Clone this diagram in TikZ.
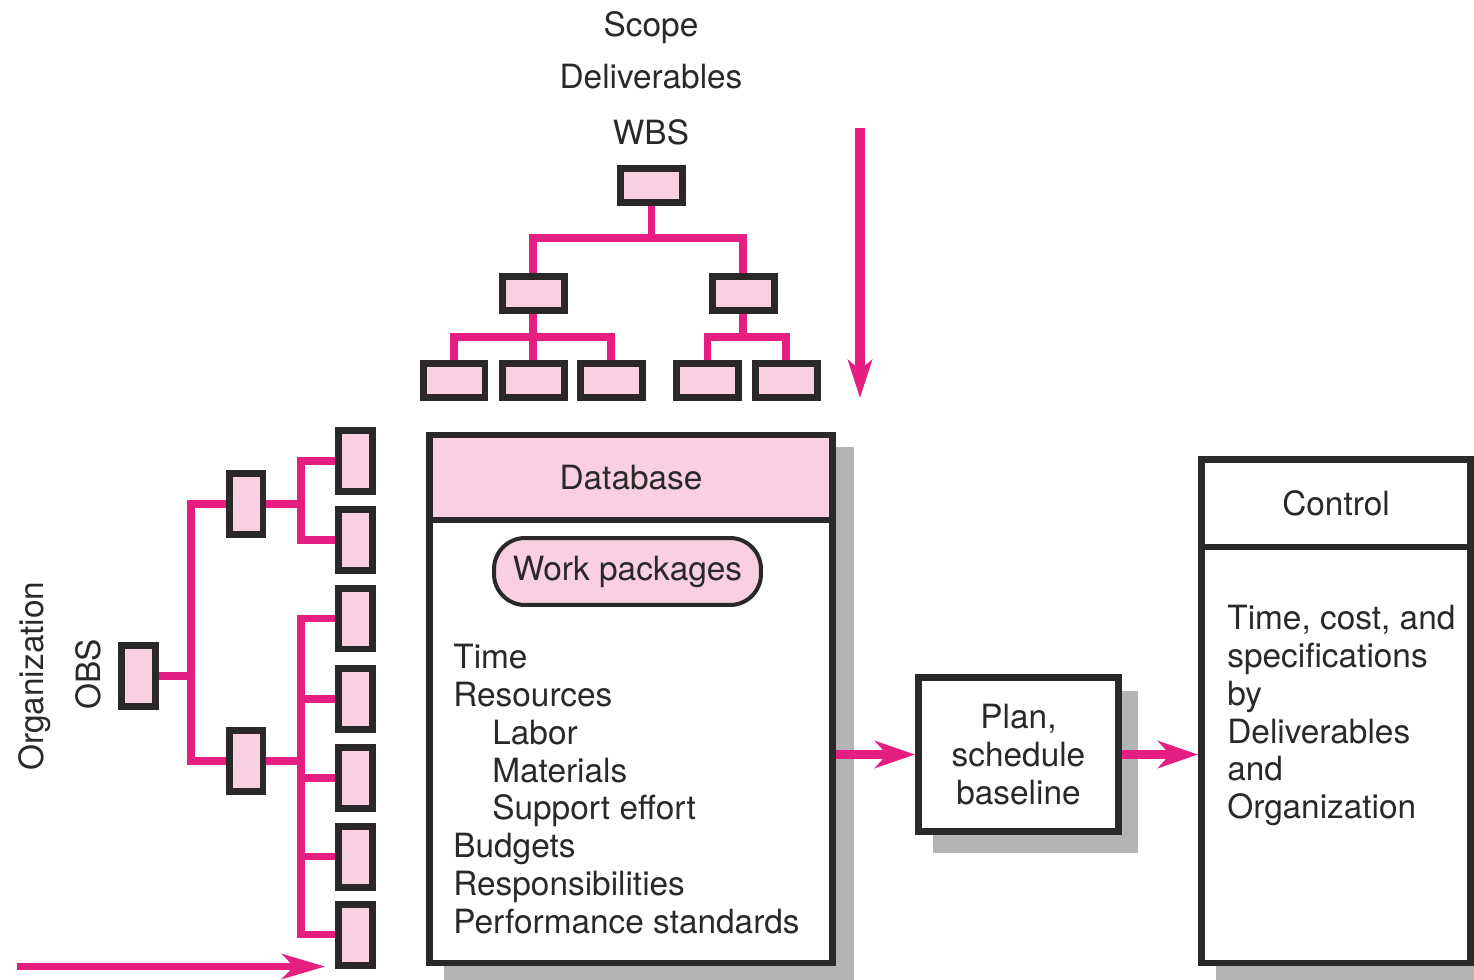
\documentclass[tikz,border=0pt]{standalone}
\usepackage{fontspec}
\setmainfont{TeX Gyre Heros}
\usetikzlibrary{arrows.meta,backgrounds}
\definecolor{mag}{RGB}{230,30,130}
\definecolor{lpink}{RGB}{249,207,226}
\definecolor{ink}{RGB}{42,40,40}
\definecolor{shadowgray}{RGB}{178,179,181}
\tikzset{
  lbl/.style={font=\fontsize{19}{21.5}\selectfont, text=ink},
  hbox/.style={draw=ink, line width=0.14cm, fill=lpink, minimum width=1.24cm,
    minimum height=0.68cm, inner sep=0, outer sep=0},
  vbox/.style={hbox, minimum width=0.68cm, minimum height=1.22cm},
  tree/.style={draw=mag, line width=0.15cm},
  panel/.style={draw=ink, line width=0.13cm, inner sep=0, outer sep=0, lbl},
  dropshadow/.style={fill=shadowgray},
  flow/.style={draw=mag, line width=0.18cm,
    -{Stealth[length=0.8cm,width=0.54cm,inset=0.24cm]}},
}
\begin{document}
\begin{tikzpicture}[x=0.02cm,y=-0.02cm]
\useasboundingbox (0,0) rectangle (1474,980);

% headings above the WBS
\node[lbl, anchor=base] (tscope) at (651,37) {Scope};
\node[lbl, anchor=base] (tdel) at (651,89) {Deliverables};
\node[lbl, anchor=base] (twbs) at (651,145) {WBS};

% WBS tree
\node[hbox] (w0) at (651.5,185.5) {};
\node[hbox] (w1) at (533,293.5) {};
\node[hbox] (w2) at (743,293.5) {};
\node[hbox] (w3) at (454,380.5) {};
\node[hbox] (w4) at (533,380.5) {};
\node[hbox] (w5) at (611,380.5) {};
\node[hbox] (w6) at (707.5,380.5) {};
\node[hbox] (w7) at (786,380.5) {};
\coordinate (wj0) at (651.5,238);
\coordinate (wj1) at (533,337);
\coordinate (wj2) at (743,337);

% OBS tree
\node[lbl, rotate=90, anchor=base] (torg) at (43,676) {Organization};
\node[lbl, rotate=90, anchor=base] (tobs) at (100,674) {OBS};
\node[vbox] (o0) at (138.5,676) {};
\node[vbox] (o1) at (246,504) {};
\node[vbox] (o2) at (246,761) {};
\node[vbox] (l1) at (355.5,461) {};
\node[vbox] (l2) at (355.5,540) {};
\node[vbox] (l3) at (355.5,618.5) {};
\node[vbox] (l4) at (355.5,699) {};
\node[vbox] (l5) at (355.5,778) {};
\node[vbox] (l6) at (355.5,856.5) {};
\node[vbox] (l7) at (355.5,934.5) {};
\coordinate (oj) at (191,676);
\coordinate (tj) at (301,504);
\coordinate (bj) at (301,761);

% database
\node[panel, fill=lpink, minimum width=8.07cm, minimum height=1.70cm] (dbhead) at (631,477.5) {Database};
\node[panel, fill=white, minimum width=8.07cm, minimum height=8.86cm] (dbbody) at (631,741.5) {};
\node[panel, fill=lpink, line width=0.08cm, rounded corners=0.62cm,
  minimum width=5.34cm, minimum height=1.34cm] (wp) at (627.5,571.5) {Work packages};
\node[lbl, anchor=north west, align=left, inner sep=0] (dblist) at (453,644)
  {Time\\Resources\\\hspace*{0.78cm}Labor\\\hspace*{0.78cm}Materials\\\hspace*{0.78cm}Support effort\\Budgets\\Responsibilities\\Performance standards};

% plan
\node[panel, fill=white, align=center, minimum width=4.01cm, minimum height=3.09cm] (plan) at (1018.5,754.5) {Plan,\\schedule\\baseline};

% control
\node[panel, fill=white, minimum width=5.39cm, minimum height=1.75cm] (chead) at (1336,503.25) {Control};
\node[panel, fill=white, minimum width=5.39cm, minimum height=8.32cm] (cbody) at (1336,755) {};
\node[lbl, anchor=north west, align=left, inner sep=0] (ctext) at (1227,605)
  {Time, cost, and\\specifications\\by\\Deliverables\\and\\Organization};

% free arrow ends
\coordinate (dtop) at (860,128);
\coordinate (dend) at (860,398);
\coordinate (bstart) at (17,966.5);
\coordinate (bend) at (325,966.5);

\begin{pgfonlayer}{background}
  % drop shadows
  \path[dropshadow] (444,447) rectangle (854,980);
  \path[dropshadow] (933,691) rectangle (1138,853);
  \path[dropshadow] (1216,475) rectangle (1474,980);
  % WBS connectors
  \draw[tree] (w0.south) -- (wj0);
  \draw[tree] (w1.north) |- (wj0) -| (w2.north);
  \draw[tree] (w1.south) -- (wj1);
  \draw[tree] (w3.north) |- (wj1) -| (w5.north);
  \draw[tree] (w4.north) -- (wj1);
  \draw[tree] (w2.south) -- (wj2);
  \draw[tree] (w6.north) |- (wj2) -| (w7.north);
  % OBS connectors
  \draw[tree] (o0.east) -- (oj);
  \draw[tree] (o1.west) -| (oj) |- (o2.west);
  \draw[tree] (o1.east) -- (tj);
  \draw[tree] (l1.west) -| (tj) |- (l2.west);
  \draw[tree] (o2.east) -- (bj);
  \draw[tree] (l3.west) -| (bj) |- (l7.west);
  \foreach \k in {4,5,6} \draw[tree] (l\k.west) -- (l\k.west -| bj);
  % flow arrows
  \draw[flow, shorten >=0.065cm] (plan.west -| dbbody.east) -- (plan.west);
  \draw[flow, shorten >=0.065cm] (plan.east) -- (plan.east -| cbody.west);
  \draw[mag, line width=0.2cm, -{Stealth[length=0.76cm,width=0.48cm,inset=0.2cm]}] (dtop) -- (dend);
  \draw[mag, line width=0.14cm, -{Stealth[length=0.86cm,width=0.5cm,inset=0.24cm]}] (bstart) -- (bend);
\end{pgfonlayer}
\end{tikzpicture}
\end{document}
